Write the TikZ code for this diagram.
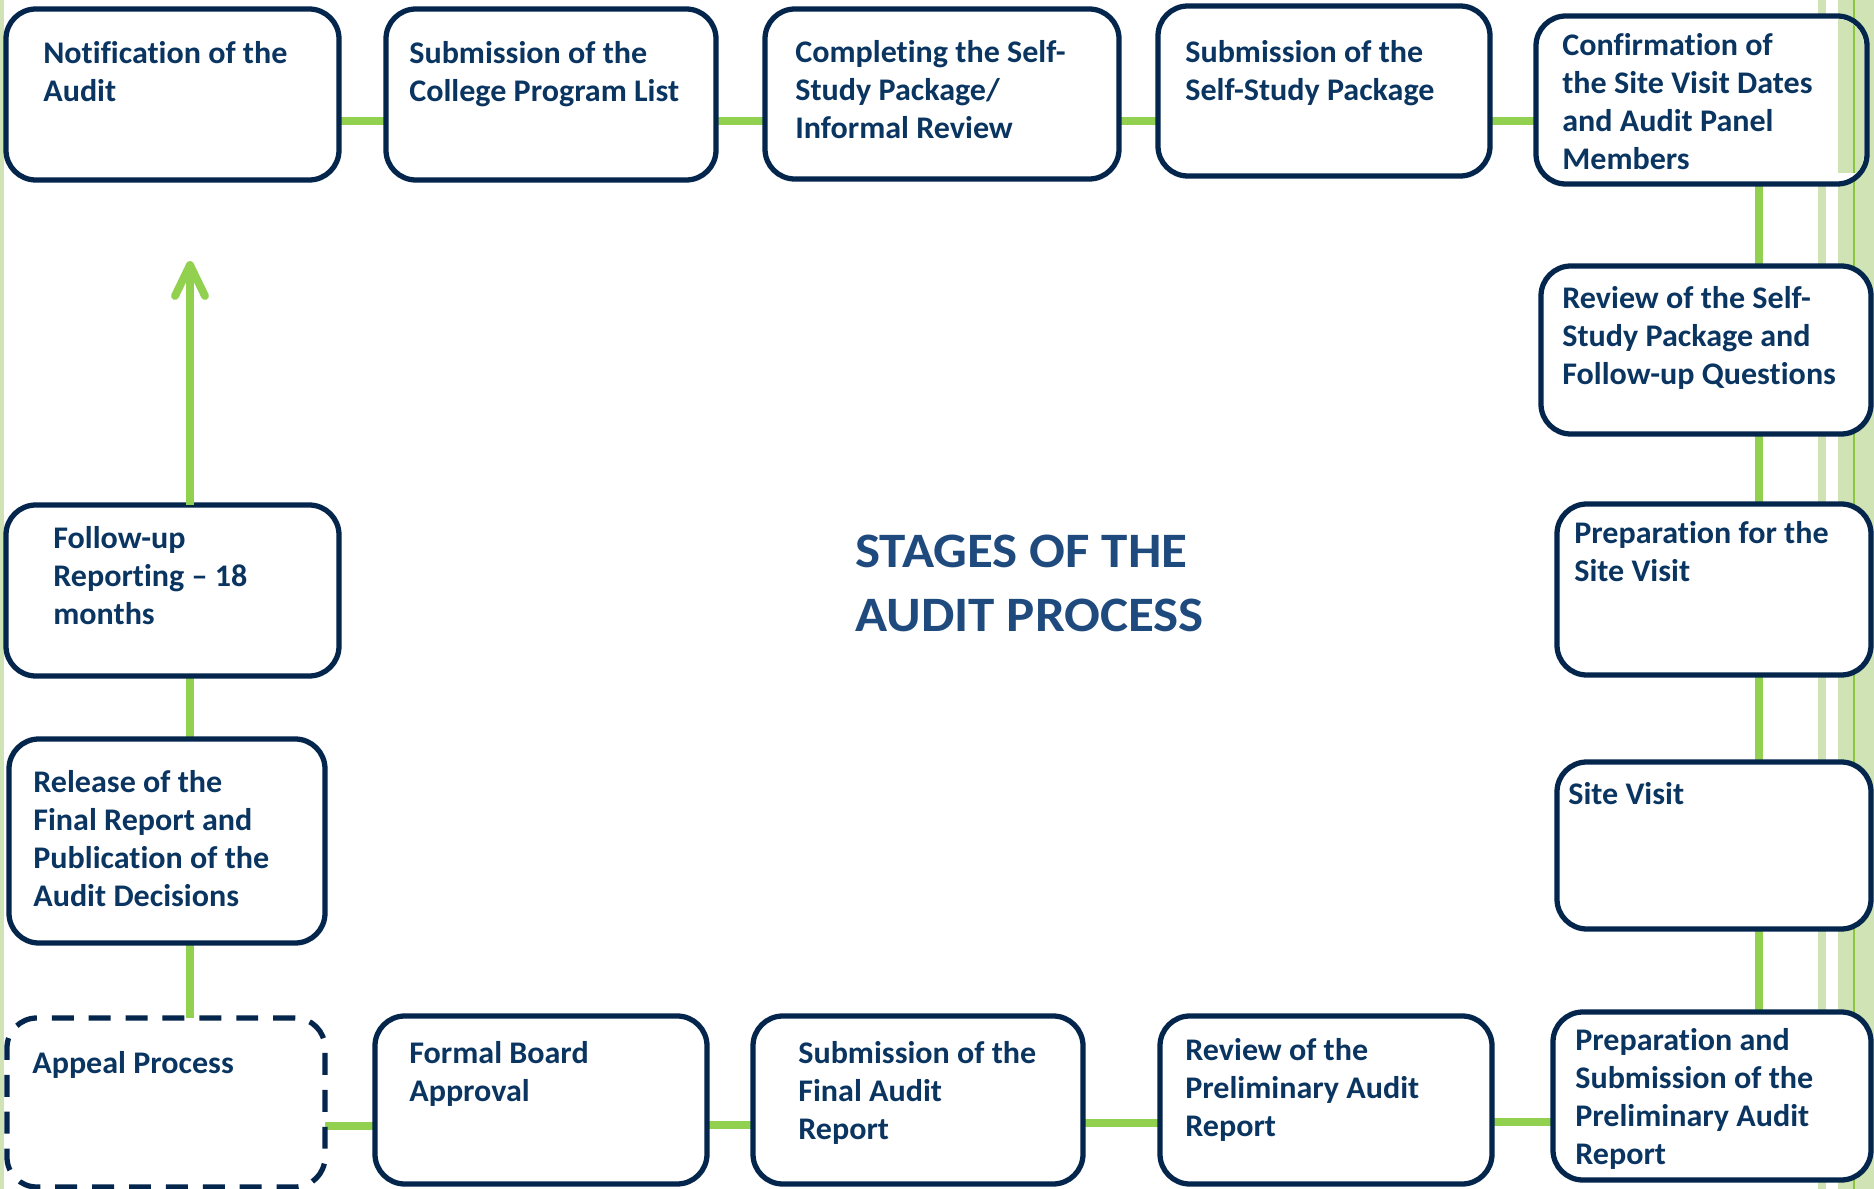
\documentclass[tikz,border=0pt]{standalone}
\usepackage{fontspec}
\setmainfont{Carlito}[Ligatures=NoCommon]
\newfontfamily\stagefont{Carlito}[FakeStretch=1.02,Ligatures=NoCommon]
\newfontfamily\headfont{Carlito}[FakeStretch=1.07,Ligatures=NoCommon]
\usetikzlibrary{backgrounds}

\definecolor{navy}{HTML}{04264D}
\definecolor{boxtext}{HTML}{0B3561}
\definecolor{titleblue}{HTML}{1F4A7E}
\definecolor{linkgreen}{HTML}{92D050}
\definecolor{paleleaf}{HTML}{CFE3B5}
\definecolor{leafline}{HTML}{8CC63F}

% \audstage[extra style]{name}{x1}{y1}{x2}{y2}: rounded stage frame between two corners
\newcommand\audstage[6][]{%
  \node[stage,#1,minimum width={(#5-#3)*0.02cm},minimum height={(#6-#4)*0.02cm}]
    (#2) at ({(#3+#5)/2},{(#4+#6)/2}) {};}

\begin{document}
\begin{tikzpicture}[x=0.02cm,y=-0.02cm,
  stage/.style={draw=navy, line width=3pt, fill=white, rounded corners=17pt,
    inner sep=0pt, outer sep=0pt},
  dashedstage/.style={dash pattern=on 12.5pt off 8.5pt},
  % labels are placed by the baseline of their last line
  stagetext/.style={anchor=base west, align=left, inner sep=0pt, text=boxtext,
    font=\stagefont\fontsize{17.9pt}{21.7pt}\selectfont\bfseries},
  titletext/.style={anchor=base west, align=left, inner sep=0pt, text=titleblue,
    font=\headfont\fontsize{28.2pt}{35.9pt}\selectfont\bfseries},
  link/.style={draw=linkgreen, line width=4.5pt},
]
\useasboundingbox (0,0) rectangle (1874,1189);

% page background and decorative edge stripes
\begin{scope}[on background layer]
  \fill[white] (0,0) rectangle (1874,1189);
  \fill[paleleaf] (0,0) rectangle (4,1189);
  \fill[paleleaf] (1818,0) rectangle (1826,1189);
  \fill[paleleaf] (1838,0) rectangle (1874,1189);
  \fill[leafline] (1853,0) rectangle (1855,1189);
\end{scope}

% stage frames
\audstage{b1}{6}{9}{339}{180}
\audstage{b2}{386}{9}{716}{180}
\audstage{b3}{765}{9}{1119}{179}
\audstage{b4}{1158}{6}{1490}{176}
\audstage{b5}{1536}{16}{1867}{184}
\audstage{b6}{1541}{266}{1871}{434}
\audstage{b7}{1557}{504}{1871}{675}
\audstage{b8}{1557}{762}{1871}{929}
\audstage{b9}{1553}{1012}{1871}{1180}
\audstage{b10}{1160}{1016}{1492}{1184}
\audstage{b11}{753}{1016}{1083}{1184}
\audstage{b12}{375}{1016}{707}{1184}
\audstage[dashedstage]{b13}{7}{1018}{325}{1187}
\audstage{b14}{9}{739}{325}{943}
\audstage{b15}{6}{505}{339}{676}

% stripes showing through the right part of the confirmation frame
\begin{scope}
  \clip[rounded corners=15pt] (1539,19) rectangle (1864,181);
  \fill[paleleaf] (1838,0) rectangle (1874,173);
  \fill[leafline] (1853,0) rectangle (1855,173);
\end{scope}

% stage labels
\node[stagetext] (t1) at (43,101.3) {Notification of the\\Audit};
\node[stagetext] (t2) at (409,101.3) {Submission of the\\College Program List};
\node[stagetext] (t3) at (795,138.5) {Completing the Self-\\Study Package/\\Informal Review};
\node[stagetext] (t4) at (1185,100.3) {Submission of the\\Self-Study Package};
\node[stagetext] (t5) at (1562,169.8) {Confirmation of\\the Site Visit Dates\\and Audit Panel\\Members};
\node[stagetext] (t6) at (1562,384.5) {Review of the Self-\\Study Package and\\Follow-up Questions};
\node[stagetext] (t7) at (1574,581.3) {Preparation for the\\Site Visit};
\node[stagetext] (t8) at (1568,804) {Site Visit};
\node[stagetext] (t9) at (1575,1164.8) {Preparation and\\Submission of the\\Preliminary Audit\\Report};
\node[stagetext] (t10) at (1185,1136.5) {Review of the\\Preliminary Audit\\Report};
\node[stagetext] (t11) at (798,1139.5) {Submission of the\\Final Audit\\Report};
\node[stagetext] (t12) at (409,1101.3) {Formal Board\\Approval};
\node[stagetext] (t13) at (32,1073) {Appeal Process};
\node[stagetext] (t14) at (33,906.8) {Release of the\\Final Report and\\Publication of the\\Audit Decisions};
\node[stagetext] (t15) at (53,624.5) {Follow-up\\Reporting – 18\\months};

% title
\node[titletext] (title) at (855,631) {STAGES OF THE\\AUDIT PROCESS};

% connector guides
\coordinate (toprow) at (0,121);
\coordinate (rightcol) at (1759,0);
\coordinate (leftcol) at (190,0);
\coordinate (rowA) at (0,1122);
\coordinate (rowB) at (0,1123);
\coordinate (rowC) at (0,1125);
\coordinate (rowD) at (0,1126);
\coordinate (uptip) at (190,265);

\begin{scope}[on background layer]
  \draw[link] (b1.east |- toprow) -- (b2.west |- toprow);
  \draw[link] (b2.east |- toprow) -- (b3.west |- toprow);
  \draw[link] (b3.east |- toprow) -- (b4.west |- toprow);
  \draw[link] (b4.east |- toprow) -- (b5.west |- toprow);
  \draw[link] (b5.south -| rightcol) -- (b6.north -| rightcol);
  \draw[link] (b6.south -| rightcol) -- (b7.north -| rightcol);
  \draw[link] (b7.south -| rightcol) -- (b8.north -| rightcol);
  \draw[link] (b8.south -| rightcol) -- (b9.north -| rightcol);
  \draw[link] (b9.west |- rowA) -- (b10.east |- rowA);
  \draw[link] (b10.west |- rowB) -- (b11.east |- rowB);
  \draw[link] (b11.west |- rowC) -- (b12.east |- rowC);
  \draw[link] (b12.west |- rowD) -- (b13.east |- rowD);
  \draw[link] (b13.north -| leftcol) -- (b14.south -| leftcol);
  \draw[link] (b14.north -| leftcol) -- (b15.south -| leftcol);
\end{scope}

% follow-up arrow back to the start
\draw[link] (b15.north -| leftcol) -- (uptip);
\draw[link, line cap=round, line join=round] (uptip) ++(-15,31) -- (uptip) -- ++(15,31);
\end{tikzpicture}
\end{document}
